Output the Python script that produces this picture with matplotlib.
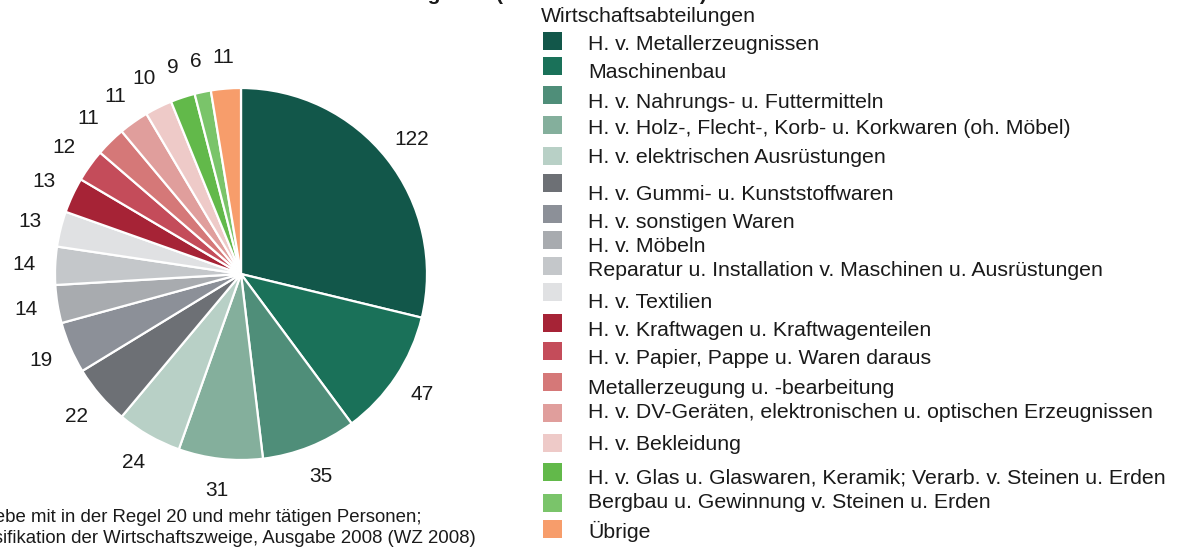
import matplotlib
matplotlib.use("Agg")
import matplotlib.pyplot as plt
from matplotlib.patches import Rectangle

plt.rcParams['font.family'] = ['Liberation Sans', 'DejaVu Sans']

categories = [
    "H. v. Metallerzeugnissen",
    "Maschinenbau",
    "H. v. Nahrungs- u. Futtermitteln",
    "H. v. Holz-, Flecht-, Korb- u. Korkwaren (oh. Möbel)",
    "H. v. elektrischen Ausrüstungen",
    "H. v. Gummi- u. Kunststoffwaren",
    "H. v. sonstigen Waren",
    "H. v. Möbeln",
    "Reparatur u. Installation v. Maschinen u. Ausrüstungen",
    "H. v. Textilien",
    "H. v. Kraftwagen u. Kraftwagenteilen",
    "H. v. Papier, Pappe u. Waren daraus",
    "Metallerzeugung u. -bearbeitung",
    "H. v. DV-Geräten, elektronischen u. optischen Erzeugnissen",
    "H. v. Bekleidung",
    "H. v. Glas u. Glaswaren, Keramik; Verarb. v. Steinen u. Erden",
    "Bergbau u. Gewinnung v. Steinen u. Erden",
    "Übrige",
]
values = [122, 47, 35, 31, 24, 22, 19, 14, 14, 13, 13, 12, 11, 11, 10, 9, 6, 11]
colors = [
    "#12574A", "#1A7159", "#4F8E79", "#84AF9C", "#B8D0C6",
    "#6D7075", "#8C9098", "#A8ABAF", "#C4C7CA", "#E0E1E3",
    "#A62336", "#C44C5A", "#D57878", "#E09E9C", "#EECAC8",
    "#62B94A", "#7AC46A", "#F79D6B",
]
legend_title = "Wirtschaftsabteilungen"
title_left = "Betriebe nach Wirtschaftsabteilungen²⁾"
title_right = "(Anzahl der Betriebe)"
footnotes = [
    "1) Betriebe mit in der Regel 20 und mehr tätigen Personen;",
    "2) Klassifikation der Wirtschaftszweige, Ausgabe 2008 (WZ 2008)",
]

W, H = 1179, 548
fig = plt.figure(figsize=(W / 100, H / 100), dpi=100)

# pie axes: centre (241, 274) px, radius 186 px
R = 186
k = 1.3
side = 2 * k * R
cx, cy = 241, 274
ax = fig.add_axes([(cx - side / 2) / W, (H - cy - side / 2) / H, side / W, side / H])

wedges, texts = ax.pie(
    values, colors=colors, startangle=90, counterclock=False, radius=1.0,
    labels=[str(v) for v in values], labeldistance=1.17,
    wedgeprops=dict(edgecolor='white', linewidth=1.6),
    textprops=dict(fontsize=15, color='#1a1a1a'),
    frame=False,
)
for t in texts:
    t.set_ha('center')
    t.set_va('center')
ax.set_aspect('auto')
ax.set_xlim(-k, k)
ax.set_ylim(-k, k)
ax.axis('off')

def fx(px):
    return px / W

def fy(py):
    return 1 - py / H

# custom legend
fig.text(fx(541), fy(22), legend_title, fontsize=15.3, color='#1a1a1a', va='baseline', ha='left')
sq_centers = [41, 66, 95, 125, 156, 183, 214, 240, 266, 292, 323, 351, 382, 413, 443, 472, 503, 529]
txt_centers = [42, 71, 100, 127, 156, 192, 221, 245, 268, 301, 328, 356, 386, 410, 443, 476, 501, 531]
sq = 18.5
for i, cat in enumerate(categories):
    yc = sq_centers[i]
    fig.add_artist(Rectangle((fx(543), fy(yc + sq / 2)), sq / W, sq / H,
                             transform=fig.transFigure, facecolor=colors[i], edgecolor='none'))
    fig.text(fx(588), fy(txt_centers[i] + 7.5), cat, fontsize=15.3, color='#1a1a1a',
             va='baseline', ha='left')

# title (mostly cropped above the figure)
fig.text(fx(478), fy(0), title_left, fontsize=15, fontweight='bold', ha='right', va='baseline', color='#1a1a1a')
fig.text(fx(496), fy(0), title_right, fontsize=15, fontweight='bold', ha='left', va='baseline', color='#1a1a1a')

# footnotes (left part cropped)
fig.text(fx(421), fy(522), footnotes[0], fontsize=13.4, ha='right', va='baseline', color='#1a1a1a')
fig.text(fx(476), fy(543), footnotes[1], fontsize=13.4, ha='right', va='baseline', color='#1a1a1a')

fig.savefig("out.png", dpi=100, facecolor='white')
